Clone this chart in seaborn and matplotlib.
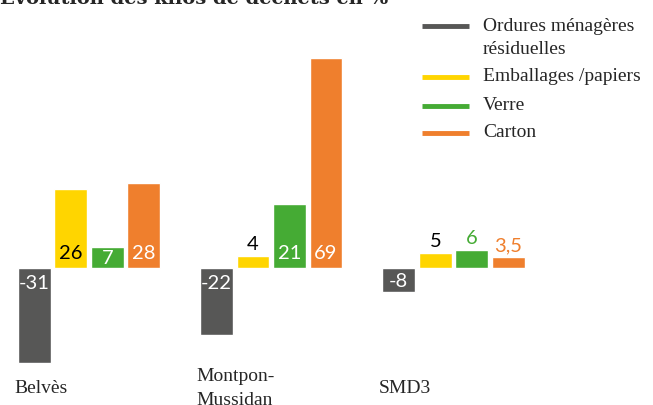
import pandas as pd
import matplotlib.pyplot as plt
import seaborn as sns
from matplotlib.lines import Line2D

# data
communes = ['Belvès', 'Montpon-\nMussidan', 'SMD3']
flux = ['Ordures ménagères\nrésiduelles', 'Emballages /papiers', 'Verre', 'Carton']
om_values = [-31, -22, -8]
emballages_values = [26, 4, 5]
verre_values = [7, 21, 6]
carton_values = [28, 69, 3.5]
colors = ['#575756', '#FFD500', '#45AB34', '#EF7F2D']

df = pd.DataFrame({
    'commune': communes * 4,
    'flux': [f for f in flux for _ in communes],
    'value': om_values + emballages_values + verre_values + carton_values,
})

sns.set_style('white')
plt.rcParams['font.family'] = ['Lato', 'DejaVu Sans']

fig = plt.figure(figsize=(6.53, 4.05), dpi=100)
ax = fig.add_axes([0, 0, 1, 1])

sns.barplot(data=df, x='commune', y='value', hue='flux', order=communes,
            hue_order=flux, palette=colors, width=0.8, gap=0.1,
            saturation=1, legend=False, ax=ax)

ax.set_xlim(-0.488, 3.094)
ax.set_ylim(-44.9, 87.9)
ax.axis('off')

# value labels: small positive bars get the label on top,
# otherwise near the baseline (centred in the bar if it is short)
for k, cont in enumerate(ax.containers):
    for bar, v in zip(cont, df[df['flux'] == flux[k]]['value']):
        x = bar.get_x() + bar.get_width() / 2
        txt = f'{v:g}'.replace('.', ',')
        if 0 < v < 7:
            col = 'black' if k == 1 else colors[k]
            ax.annotate(txt, (x, v), xytext=(0, 2), textcoords='offset points',
                        ha='center', va='bottom', fontsize=14.5, color=col)
        elif v > 0:
            col = 'black' if k == 1 else 'white'
            ax.text(x, min(v / 2, 5.2) - 0.3, txt, ha='center', va='center',
                    fontsize=14.5, color=col)
        else:
            ax.text(x, -min(-v / 2, 4.9) - 0.3, txt, ha='center', va='center',
                    fontsize=14.5, color='white')

# category labels under the groups
for i, c in enumerate(communes):
    ax.text(i - 0.41, -39.5, c, ha='left', va='center', fontsize=14,
            family='Liberation Serif', linespacing=1.6)

# legend drawn by hand
leg_y = [26, 77, 106, 133]
for k, name in enumerate(flux):
    y = 1 - leg_y[k] / 405
    fig.add_artist(Line2D([422 / 653, 469 / 653], [y, y], color=colors[k],
                          lw=3.5, solid_capstyle='butt', transform=fig.transFigure))
    fig.text(483 / 653, y + 0.002 + (0.018 if '\n' in name else 0), name, ha='left',
             va='top' if '\n' in name else 'center',
             fontsize=14, family='Liberation Serif', linespacing=1.45)

fig.text(0.0, 1.003, 'Évolution des kilos de déchets en %', ha='left', va='center',
         fontsize=14, fontweight='bold', family='DejaVu Serif')

fig.savefig('out.png', dpi=100)
